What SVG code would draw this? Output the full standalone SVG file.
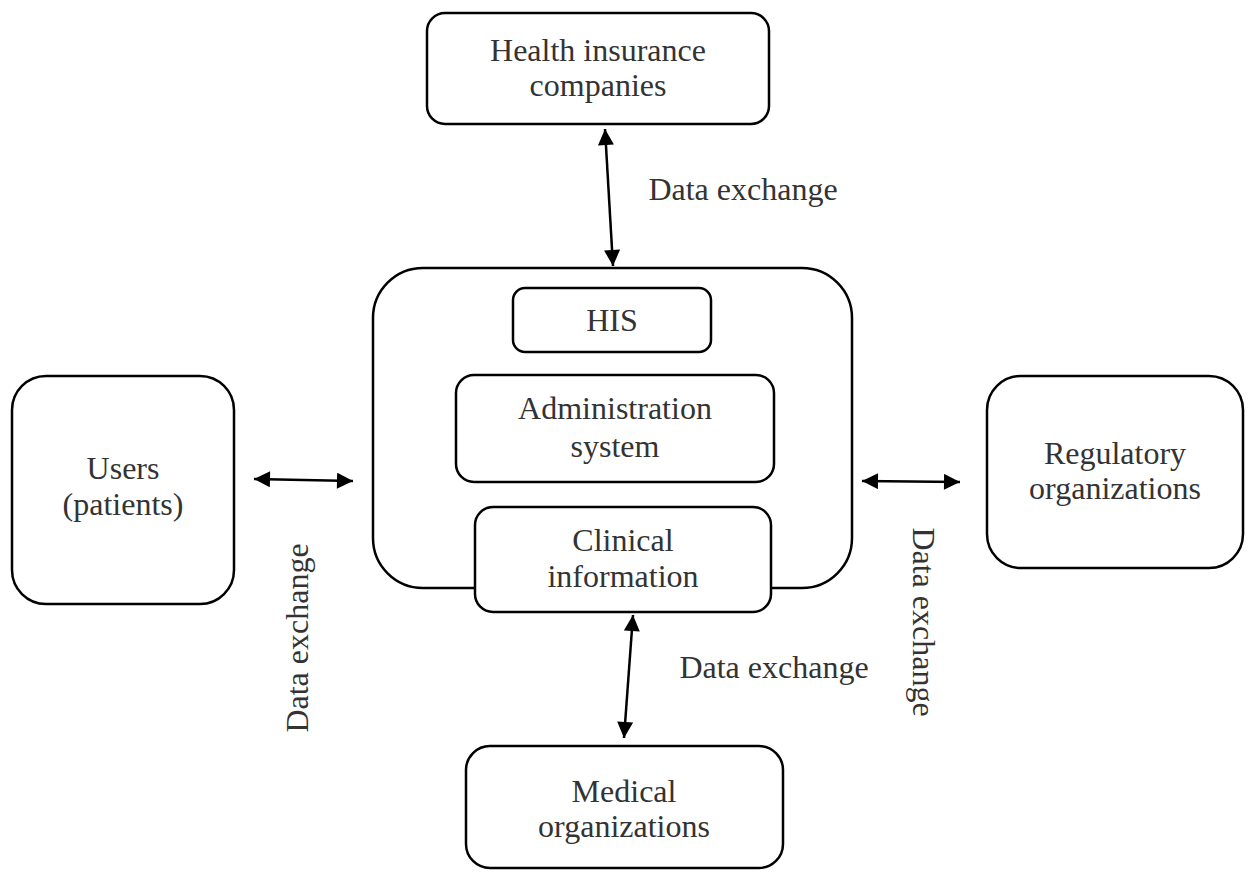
<svg xmlns="http://www.w3.org/2000/svg" width="1255" height="873" viewBox="0 0 1255 873">
  <style>
    .box { fill: #ffffff; stroke: #000000; stroke-width: 2.5; }
    .lbl { font-family: "Liberation Serif", "Times New Roman", serif; font-size: 32px; fill: #333333; text-anchor: middle; }
    .edge { stroke: #000000; stroke-width: 2.5; fill: none; marker-start: url(#head); marker-end: url(#head); }
  </style>
  <defs>
    <marker id="head" viewBox="0 0 10 10" refX="10" refY="5" markerUnits="userSpaceOnUse" markerWidth="17" markerHeight="16" orient="auto-start-reverse">
      <path d="M0,0 L10,5 L0,10 z" fill="#000000"/>
    </marker>
  </defs>
  <rect width="1255" height="873" fill="#ffffff"/>

  <!-- central hospital information system container -->
  <g id="his-container">
    <rect class="box" x="373" y="268" width="479" height="320" rx="50" ry="50"/>
  </g>
  <g id="his">
    <rect class="box" x="513" y="288" width="198" height="64" rx="12" ry="12"/>
    <text class="lbl" x="612" y="331">HIS</text>
  </g>
  <g id="administration-system">
    <rect class="box" x="456" y="375" width="318" height="107" rx="18" ry="18"/>
    <text class="lbl" x="615" y="419">Administration</text>
    <text class="lbl" x="615" y="457">system</text>
  </g>
  <g id="clinical-information">
    <rect class="box" x="475" y="507" width="296" height="105" rx="18" ry="18"/>
    <text class="lbl" x="623" y="551">Clinical</text>
    <text class="lbl" x="623" y="587">information</text>
  </g>

  <!-- external parties -->
  <g id="health-insurance">
    <rect class="box" x="427" y="13" width="342" height="111" rx="18" ry="18"/>
    <text class="lbl" x="598" y="61">Health insurance</text>
    <text class="lbl" x="598" y="96">companies</text>
  </g>
  <g id="users">
    <rect class="box" x="12" y="376" width="222" height="228" rx="34" ry="34"/>
    <text class="lbl" x="123" y="479">Users</text>
    <text class="lbl" x="123" y="515">(patients)</text>
  </g>
  <g id="regulatory">
    <rect class="box" x="987" y="376" width="256" height="192" rx="34" ry="34"/>
    <text class="lbl" x="1115" y="464">Regulatory</text>
    <text class="lbl" x="1115" y="499">organizations</text>
  </g>
  <g id="medical">
    <rect class="box" x="466" y="746" width="317" height="122" rx="24" ry="24"/>
    <text class="lbl" x="624" y="802">Medical</text>
    <text class="lbl" x="624" y="837">organizations</text>
  </g>

  <!-- data exchange connectors -->
  <g id="connectors">
    <line class="edge" x1="605" y1="129" x2="613" y2="266"/>
    <line class="edge" x1="254" y1="479" x2="353" y2="481"/>
    <line class="edge" x1="862" y1="481" x2="960" y2="482"/>
    <line class="edge" x1="633" y1="615" x2="624" y2="738"/>
    <text class="lbl" x="743" y="200">Data exchange</text>
    <text class="lbl" x="774" y="678">Data exchange</text>
    <text class="lbl" transform="translate(308,638) rotate(-90)">Data exchange</text>
    <text class="lbl" transform="translate(913,622) rotate(90)">Data exchange</text>
  </g>
</svg>
